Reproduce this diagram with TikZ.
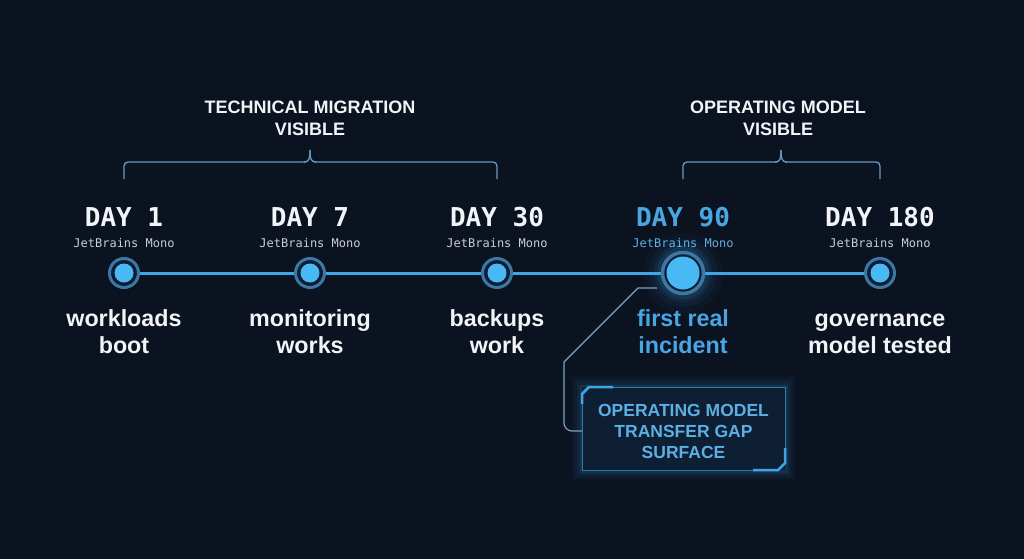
\documentclass[tikz,border=0pt]{standalone}
\usepackage{fontspec}
\setmainfont{Liberation Sans}
\newfontfamily\monof{DejaVu Sans Mono}
\definecolor{bg}{HTML}{0B1220}
\definecolor{wtxt}{HTML}{F2F4F7}
\definecolor{accent}{HTML}{3EA6E6}
\definecolor{dot}{HTML}{48B9F5}
\definecolor{ring}{HTML}{3C78A6}
\definecolor{ringfill}{HTML}{0F1D33}
\definecolor{brk}{HTML}{6A98C0}
\definecolor{bluetxt}{HTML}{4AA6E2}
\definecolor{subtxt}{HTML}{C8CDD6}
\definecolor{boxfill}{HTML}{0E1E33}
\tikzset{
  daylbl/.style={font=\monof\bfseries\fontsize{26}{26}\selectfont, text=wtxt, inner sep=0pt, anchor=base},
  sublbl/.style={font=\monof\fontsize{12}{12}\selectfont, text=subtxt, inner sep=0pt, anchor=base},
  evlbl/.style={font=\bfseries\fontsize{23.3}{27}\selectfont, text=wtxt, align=center, inner sep=0pt, anchor=base},
  ttl/.style={font=\bfseries\fontsize{18}{22}\selectfont, text=wtxt, align=center, inner sep=0pt, anchor=base},
  milestone/.style={circle, draw=ring, line width=3pt, fill=ringfill, minimum size=29pt, inner sep=0pt, outer sep=0pt},
  core/.style={circle, fill=dot, minimum size=19pt, inner sep=0pt, outer sep=0pt},
  bracketline/.style={draw=brk, line width=1.3pt, rounded corners=4pt},
}
\begin{document}
\begin{tikzpicture}[x=1pt,y=-1pt]
\useasboundingbox (0,0) rectangle (1024,559);
\fill[bg] (0,0) rectangle (1024,559);

% timeline
\coordinate (t0) at (124,273);
\coordinate (t4) at (880,273);
\draw[accent, line width=3pt] (t0) -- (t4);

% glow for day 90
\foreach \r/\o in {40/0.04,34/0.06,29/0.08,26/0.10} {
  \fill[accent, opacity=\o] (683,273) circle (\r);
}

% milestones
\foreach \n/\x in {m1/124, m2/310, m3/497, m5/880} {
  \node[milestone] (\n) at (\x,273) {};
  \node[core] at (\n) {};
}
\node[milestone, minimum size=41pt, line width=3.5pt] (m4) at (683,273) {};
\node[core, minimum size=33pt] at (m4) {};

% day labels
\node[daylbl] (d1) at (124,226) {DAY 1};
\node[daylbl] (d2) at (310,226) {DAY 7};
\node[daylbl] (d3) at (497,226) {DAY 30};
\node[daylbl, text=bluetxt] (d4) at (683,226) {DAY 90};
\node[daylbl] (d5) at (880,226) {DAY 180};

\node[sublbl] (s1) at (124,247) {JetBrains Mono};
\node[sublbl] (s2) at (310,247) {JetBrains Mono};
\node[sublbl] (s3) at (497,247) {JetBrains Mono};
\node[sublbl, text=bluetxt!80!subtxt] (s4) at (683,247) {JetBrains Mono};
\node[sublbl] (s5) at (880,247) {JetBrains Mono};

% event labels (anchor base = last line baseline)
\node[evlbl] (e1) at (124,353) {workloads\\boot};
\node[evlbl] (e2) at (310,353) {monitoring\\works};
\node[evlbl] (e3) at (497,353) {backups\\work};
\node[evlbl, text=bluetxt] (e4) at (683,353) {first real\\incident};
\node[evlbl] (e5) at (880,353) {governance\\model tested};

% brackets
\draw[bracketline] (124,179) -- (124,162) -- (306,162);
\draw[bracketline] (497,179) -- (497,162) -- (314,162);
\draw[brk, line width=1.3pt] (304,162) .. controls (309,162) and (310,159) .. (310,150);
\draw[brk, line width=1.3pt] (316,162) .. controls (311,162) and (310,159) .. (310,150);

\draw[bracketline] (683,179) -- (683,162) -- (777,162);
\draw[bracketline] (880,179) -- (880,162) -- (785,162);
\draw[brk, line width=1.3pt] (775,162) .. controls (780,162) and (781,159) .. (781,150);
\draw[brk, line width=1.3pt] (787,162) .. controls (782,162) and (781,159) .. (781,150);

\node[ttl] (g1) at (310,135.5) {TECHNICAL MIGRATION\\VISIBLE};
\node[ttl] (g2) at (778,135.5) {OPERATING MODEL\\VISIBLE};

% callout box
\node[minimum width=203pt, minimum height=83pt, inner sep=0pt] (box) at (683.5,429) {};
\foreach \w/\o in {22/0.03,16/0.05,10/0.07,5/0.10} {
  \draw[accent, line width=\w pt, opacity=\o] (582,387) rectangle (785,470);
}
\fill[boxfill] (582,387) rectangle (785,470);
\draw[accent!70!bg, line width=1pt] (582,396) -- (582,470) -- (776,470);
\draw[accent!70!bg, line width=1pt] (590,387) -- (785,387) -- (785,462);
\draw[accent, line width=2.5pt] (582,404) -- (582,394) -- (589,387) -- (613,387);
\draw[accent, line width=2.5pt] (785,448) -- (785,463) -- (778,470) -- (753,470);
\node[font=\bfseries\fontsize{17.5}{21}\selectfont, text=bluetxt!90!white, align=center, inner sep=0pt, anchor=base] (boxtxt) at (683.5,458) {OPERATING MODEL\\TRANSFER GAP\\SURFACE};

% connector
\coordinate (c0) at (657,288);
\draw[brk!90!white, line width=1.2pt] (c0) -- (638,288) -- (564,362) [rounded corners=8pt] -- (564,431) -- (box.west |- 0,431);
\end{tikzpicture}
\end{document}
